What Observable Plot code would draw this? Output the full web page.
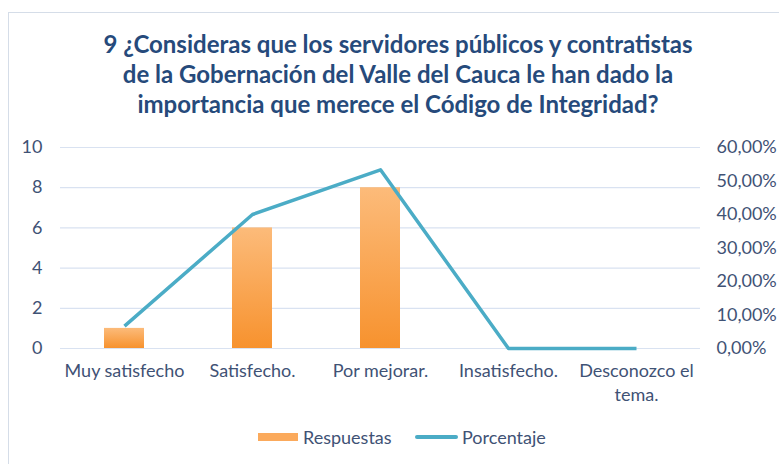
<!DOCTYPE html>
<html>
<head>
<meta charset="utf-8">
<script src="https://cdn.jsdelivr.net/npm/d3@7"></script>
<script src="https://cdn.jsdelivr.net/npm/@observablehq/plot@0.6"></script>
<style>
  body { margin: 0; background: #fff; }
  #wrap { position: relative; width: 779px; height: 464px; overflow: hidden; font-family: Lato, "Open Sans", sans-serif; }
  #frame { position: absolute; left: 8px; top: 12px; width: 800px; height: 500px; border: 1px solid #d5dde8; }
  #title { position: absolute; left: 0; top: 29px; width: 796px; text-align: center; color: #264a7b; font-weight: bold; font-size: 24px; line-height: 30px; }
  #chart { position: absolute; left: 0; top: 130px; }
  #legend { position: absolute; top: 426px; left: 0; width: 779px; font-size: 18px; line-height: 22px; color: #3f5275; }
  .sw { position: absolute; }
</style>
</head>
<body>
<div id="wrap">
  <div id="frame"></div>
  <div id="title">9 ¿Consideras que los servidores públicos y contratistas<br>de la Gobernación del Valle del Cauca le han dado la<br>importancia que merece el Código de Integridad?</div>
  <div id="chart"></div>
  <div id="legend">
    <div class="sw" style="left:258px;top:7px;width:40px;height:8px;background:#fbaa5c;"></div>
    <div class="sw" style="left:303px;top:0px;">Respuestas</div>
    <div class="sw" style="left:415px;top:9px;width:43px;height:4px;border-radius:2px;background:#4bacc6;"></div>
    <div class="sw" style="left:462px;top:0px;">Porcentaje</div>
  </div>
</div>
<script>
const categories = ["Muy satisfecho", "Satisfecho.", "Por mejorar.", "Insatisfecho.", "Desconozco el tema."];
const respuestas = [1, 6, 8, 0, 0];
const porcentaje = [0.0667, 0.40, 0.5333, 0, 0];
const leftTicks = [0, 2, 4, 6, 8, 10];
const rightTicks = [0, 0.1, 0.2, 0.3, 0.4, 0.5, 0.6];

const pctMax = 0.6, countMax = 10;
const toLeft = p => p / pctMax * countMax;

const data = categories.map((c, i) => ({cat: c, n: respuestas[i], pct: porcentaje[i]}));
const labelColor = "#3f5275";

const chart = Plot.plot({
  width: 779,
  height: 280,
  marginLeft: 60,
  marginRight: 79,
  marginTop: 17,
  marginBottom: 62,
  style: {fontFamily: "Lato, 'Open Sans', sans-serif", fontSize: "18px", color: labelColor, background: "transparent"},
  x: {domain: categories, paddingInner: 0.6875, paddingOuter: 0.34375, label: null},
  y: {domain: [0, countMax], label: null},
  marks: [
    Plot.ruleY(leftTicks, {stroke: "#d9e2f1", strokeWidth: 1.2}),
    Plot.barY(data, {x: "cat", y: "n", fill: "url(#barGrad)"}),
    Plot.line(data, {x: "cat", y: d => toLeft(d.pct), stroke: "#4bacc6", strokeWidth: 3.5, strokeLinejoin: "round", strokeLinecap: "butt", style: "filter: drop-shadow(1px 1.5px 1px rgba(0,0,0,0.35))"}),
    Plot.axisY(leftTicks, {anchor: "left", tickSize: 0, tickPadding: 18, fontSize: 18, fill: labelColor, label: null}),
    Plot.axisY(rightTicks.map(toLeft), {anchor: "right", tickSize: 0, tickPadding: 16, fontSize: 18, fill: labelColor, label: null,
      tickFormat: v => (v / countMax * pctMax * 100).toFixed(2).replace(".", ",") + "%"}),
    Plot.axisX({tickSize: 0, tickPadding: 12, fontSize: 18, fill: labelColor, label: null, lineHeight: 1.3,
      tickFormat: d => d.replace(" el tema.", " el\ntema.")})
  ]
});

const svg = d3.select(chart);
const defs = svg.insert("defs", ":first-child");
const g = defs.append("linearGradient").attr("id", "barGrad").attr("x1", 0).attr("y1", 0).attr("x2", 0).attr("y2", 1);
g.append("stop").attr("offset", "0%").attr("stop-color", "#fcbb7a");
g.append("stop").attr("offset", "100%").attr("stop-color", "#f7922e");
document.getElementById("chart").appendChild(chart);
</script>
</body>
</html>
